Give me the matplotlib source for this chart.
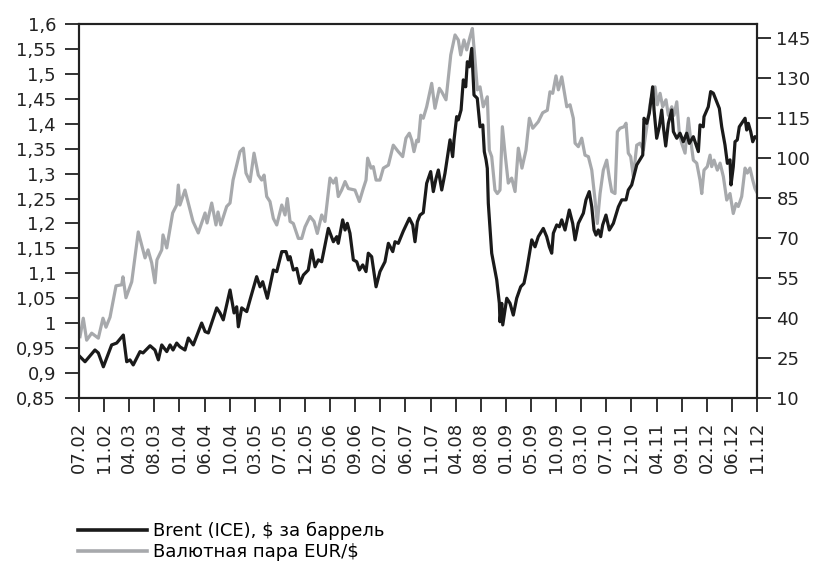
import matplotlib
matplotlib.use("Agg")
import matplotlib.pyplot as plt
from matplotlib.lines import Line2D

plt.rcParams['font.family'] = ['DejaVu Sans']

# x positions are weeks counted from July 2002; a date label every 20 weeks
tick_labels = ['07.02', '11.02', '04.03', '08.03', '01.04', '06.04', '10.04',
               '03.05', '07.05', '12.05', '05.06', '09.06', '02.07', '06.07',
               '11.07', '04.08', '08.08', '01.09', '05.09', '10.09', '03.10',
               '07.10', '12.10', '04.11', '09.11', '02.12', '06.12', '11.12']
tick_weeks = [20 * i for i in range(len(tick_labels))]

# EUR/$ exchange rate (left axis)
eur_week = [0.8, 3.4, 6.1, 10.1, 15.4, 19.1, 21.5, 24.7, 29.5, 34.0,
            35.0, 37.4, 42.0, 47.2, 52.6, 55.0, 57.9, 60.5, 62.1, 65.9,
            66.9, 69.9, 74.6, 77.8, 79.1, 80.4, 84.4, 90.8, 95.0, 100.4,
            102.0, 105.7, 109.1, 110.7, 112.9, 117.6, 120.3, 122.7, 128.2, 130.9,
            133.0, 136.2, 139.4, 142.8, 145.5, 147.4, 149.5, 152.1, 154.8, 157.5,
            161.5, 164.1, 165.9, 168.1, 170.7, 174.7, 177.4, 180.0, 184.0, 187.2,
            189.8, 193.3, 195.9, 199.9, 202.6, 204.7, 206.5, 209.2, 211.9, 214.5,
            219.8, 223.3, 226.4, 228.6, 229.9, 232.6, 234.4, 236.6, 239.7, 242.4,
            246.4, 250.3, 254.3, 257.8, 260.4, 263.1, 265.0, 266.8, 269.0, 270.3,
            272.2, 274.2, 276.9, 280.9, 283.5, 287.0, 288.9, 292.3, 296.1, 299.5,
            302.1, 304.0, 306.6, 308.8, 311.4, 313.3, 315.4, 317.3, 319.4, 322.0,
            325.2, 326.8, 328.7, 331.3, 333.2, 335.3, 337.2, 339.3, 341.9, 344.6,
            347.3, 349.9, 352.8, 356.0, 358.7, 361.4, 365.8, 369.3, 373.0, 375.1,
            377.3, 379.9, 381.8, 384.5, 388.5, 391.1, 393.7, 395.1, 397.7, 400.4,
            403.0, 405.7, 408.4, 411.0, 412.8, 415.0, 417.6, 420.3, 422.4, 424.3,
            426.9, 428.8, 430.9, 434.1, 435.7, 437.5, 439.4, 441.5, 444.2, 446.8,
            449.5, 452.2, 453.4, 455.4, 458.8, 460.6, 462.8, 464.9, 467.5, 469.4,
            472.1, 473.9, 476.1, 478.1, 480.0, 482.7, 485.3, 487.2, 489.3, 492.0,
            494.6, 496.0, 497.8, 500.4, 502.6, 503.9, 505.8, 508.4, 510.6, 513.2,
            515.9, 518.5, 521.1, 523.3, 525.1, 527.8, 530.5, 532.3, 534.4, 536.6,
            538.4, 539.8]
eur_rate = [0.973, 1.010, 0.966, 0.980, 0.970, 1.010, 0.992, 1.012, 1.075, 1.077,
            1.093, 1.051, 1.083, 1.183, 1.131, 1.147, 1.121, 1.081, 1.127, 1.147,
            1.177, 1.151, 1.221, 1.237, 1.277, 1.237, 1.267, 1.204, 1.181, 1.221,
            1.201, 1.241, 1.197, 1.223, 1.197, 1.234, 1.241, 1.287, 1.344, 1.351,
            1.301, 1.284, 1.341, 1.297, 1.287, 1.297, 1.254, 1.244, 1.210, 1.197,
            1.237, 1.217, 1.250, 1.204, 1.200, 1.170, 1.170, 1.193, 1.214, 1.204,
            1.180, 1.217, 1.204, 1.291, 1.281, 1.291, 1.254, 1.267, 1.284, 1.270,
            1.267, 1.244, 1.270, 1.287, 1.331, 1.311, 1.314, 1.287, 1.287, 1.311,
            1.317, 1.357, 1.344, 1.334, 1.371, 1.381, 1.367, 1.344, 1.367, 1.364,
            1.417, 1.411, 1.434, 1.481, 1.431, 1.471, 1.464, 1.448, 1.538, 1.578,
            1.568, 1.538, 1.568, 1.548, 1.574, 1.591, 1.528, 1.468, 1.474, 1.434,
            1.454, 1.347, 1.334, 1.267, 1.260, 1.267, 1.394, 1.341, 1.281, 1.291,
            1.264, 1.351, 1.311, 1.347, 1.411, 1.391, 1.404, 1.422, 1.427, 1.464,
            1.461, 1.496, 1.468, 1.494, 1.434, 1.438, 1.411, 1.361, 1.354, 1.371,
            1.337, 1.334, 1.307, 1.247, 1.200, 1.260, 1.307, 1.327, 1.291, 1.264,
            1.260, 1.384, 1.391, 1.394, 1.401, 1.341, 1.334, 1.294, 1.357, 1.361,
            1.347, 1.394, 1.414, 1.448, 1.474, 1.438, 1.461, 1.434, 1.448, 1.417,
            1.434, 1.417, 1.444, 1.381, 1.361, 1.341, 1.411, 1.367, 1.327, 1.321,
            1.287, 1.260, 1.307, 1.314, 1.337, 1.314, 1.327, 1.307, 1.321, 1.294,
            1.247, 1.260, 1.220, 1.240, 1.234, 1.254, 1.311, 1.301, 1.311, 1.287,
            1.270, 1.263]

# Brent (ICE), $ per barrel (right axis)
brent_week = [0.8, 4.8, 12.7, 15.4, 19.4, 26.0, 30.0, 35.3, 38.0, 40.6,
              43.2, 48.6, 51.0, 56.6, 60.5, 63.2, 65.9, 69.9, 72.5, 74.9,
              77.8, 80.4, 84.4, 87.1, 91.0, 97.7, 100.4, 103.0, 109.7, 112.3,
              114.9, 120.3, 123.5, 125.6, 126.9, 129.6, 133.6, 136.2, 141.5, 144.2,
              146.3, 150.0, 154.8, 157.5, 161.5, 164.9, 166.7, 168.1, 170.7, 173.4,
              176.0, 178.7, 182.6, 185.3, 188.0, 190.6, 193.3, 198.6, 202.6, 205.3,
              206.5, 210.0, 211.9, 213.7, 215.8, 218.5, 221.2, 223.3, 226.0, 228.6,
              230.4, 233.1, 236.6, 239.7, 243.7, 246.4, 249.9, 251.7, 254.3, 258.3,
              263.1, 265.8, 267.6, 269.5, 271.6, 274.2, 276.9, 280.1, 282.2, 284.4,
              286.2, 288.9, 291.5, 295.5, 297.6, 298.7, 300.8, 302.1, 304.3, 306.1,
              308.0, 309.3, 310.9, 312.8, 314.6, 317.2, 319.4, 321.6, 322.8, 324.2,
              325.2, 326.0, 328.7, 332.7, 334.8, 335.3, 336.7, 337.5, 340.7, 343.3,
              345.9, 348.6, 351.8, 354.4, 356.6, 360.6, 363.2, 365.8, 369.8, 372.5,
              374.6, 376.5, 377.8, 380.5, 382.6, 384.5, 387.1, 390.5, 393.2, 395.1,
              397.7, 401.7, 403.8, 406.4, 408.4, 410.2, 411.8, 413.6, 415.5, 417.1,
              419.7, 422.4, 425.6, 429.6, 432.3, 435.7, 437.5, 440.2, 444.2, 449.0,
              450.0, 452.2, 454.2, 456.9, 458.0, 460.1, 462.2, 464.1, 465.4, 467.3,
              469.4, 472.1, 473.4, 476.1, 478.7, 481.3, 484.0, 486.1, 489.3, 493.3,
              494.6, 497.2, 497.8, 501.2, 503.1, 505.2, 508.4, 510.0, 511.9, 514.5,
              516.4, 518.5, 519.3, 521.1, 522.5, 524.3, 525.9, 528.6, 530.5, 531.8,
              533.1, 535.0, 536.6, 538.4, 539.8]
brent_price = [25.5, 23.6, 28.0, 26.9, 21.7, 29.9, 30.6, 33.6, 23.6, 24.3,
               22.4, 27.4, 26.9, 29.6, 28.0, 24.3, 29.9, 27.4, 29.9, 28.0,
               30.6, 29.2, 28.0, 32.5, 29.9, 38.1, 34.9, 34.4, 43.8, 41.9,
               39.3, 50.5, 41.9, 44.2, 36.7, 43.8, 42.4, 46.8, 55.5, 51.7,
               53.6, 47.4, 58.0, 57.4, 64.9, 64.9, 61.8, 63.0, 58.0, 58.6,
               53.0, 56.1, 58.0, 65.5, 59.2, 61.8, 61.1, 73.6, 68.6, 70.5,
               68.0, 76.8, 73.0, 75.5, 71.8, 61.8, 61.1, 58.0, 59.9, 57.4,
               64.3, 63.0, 51.7, 57.4, 61.1, 68.0, 64.9, 68.6, 68.0, 72.6,
               77.4, 74.9, 68.6, 76.1, 78.6, 79.5, 90.5, 94.9, 87.4, 92.4,
               95.5, 88.0, 94.3, 106.8, 100.5, 106.8, 115.5, 114.3, 118.0, 129.3,
               126.7, 136.1, 134.2, 141.1, 123.6, 122.4, 111.7, 112.4, 102.4, 99.3,
               96.1, 83.0, 64.3, 54.3, 45.5, 38.6, 45.5, 37.4, 47.4, 45.5,
               41.1, 47.4, 51.7, 53.0, 58.0, 69.3, 66.7, 70.5, 73.6, 70.5,
               66.7, 64.3, 71.8, 74.9, 74.2, 76.8, 73.0, 80.5, 75.5, 69.3,
               75.5, 79.3, 84.3, 87.4, 81.7, 73.0, 71.1, 73.0, 70.5, 74.9,
               78.6, 73.0, 75.5, 81.7, 84.3, 84.3, 88.0, 89.9, 97.4, 101.1,
               114.9, 113.0, 116.8, 126.7, 118.0, 107.4, 111.7, 118.0, 111.7, 104.5,
               113.0, 118.0, 109.9, 107.4, 109.3, 106.1, 109.3, 105.5, 108.0, 102.4,
               112.4, 111.7, 115.5, 119.2, 124.9, 124.3, 120.5, 118.6, 111.7, 104.9,
               98.0, 99.3, 89.9, 96.7, 106.1, 106.8, 111.7, 113.6, 114.9, 110.5,
               113.0, 109.9, 106.1, 108.0, 107.5]

left_ticks = [0.85, 0.9, 0.95, 1.0, 1.05, 1.1, 1.15, 1.2, 1.25, 1.3,
              1.35, 1.4, 1.45, 1.5, 1.55, 1.6]
right_ticks = [10, 25, 40, 55, 70, 85, 100, 115, 130, 145]

BLACK = '#1a1a1a'
GRAY = '#a7a9ac'
INK = '#222222'
FS = 13

fig = plt.figure(figsize=(8.16, 5.65), dpi=100)
ax = fig.add_axes([79 / 816, 1 - 398 / 565, 678 / 816, 374 / 565])
ax2 = ax.twinx()

ax.plot(eur_week, eur_rate, color=GRAY, lw=2.3, solid_joinstyle='round')
ax2.plot(brent_week, brent_price, color=BLACK, lw=2.3, solid_joinstyle='round')

ax.set_xlim(0, 540)
ax.set_ylim(0.85, 1.6)
ax2.set_ylim(10, 150.25)

ax.set_xticks(tick_weeks)
ax.set_xticklabels(tick_labels, rotation=90, fontsize=FS)
ax.set_yticks(left_ticks)
ax.set_yticklabels([f"{v:g}".replace('.', ',') for v in left_ticks], fontsize=FS)
ax2.set_yticks(right_ticks)
ax2.set_yticklabels([str(v) for v in right_ticks], fontsize=FS)

for a in (ax, ax2):
    a.tick_params(direction='out', length=10, width=1.3, color=INK, labelcolor=INK)
    for s in a.spines.values():
        s.set_linewidth(1.5)
        s.set_color(INK)
ax.tick_params(axis='y', pad=6.5)
ax.tick_params(axis='x', pad=7)
ax2.tick_params(axis='y', pad=4)

handles = [Line2D([], [], color=BLACK, lw=2.6),
           Line2D([], [], color=GRAY, lw=2.6)]
labels = ['Brent (ICE), $ за баррель', 'Валютная пара EUR/$']
fig.legend(handles, labels, loc='upper left', bbox_to_anchor=(78 / 816, 1 - 522 / 565),
           frameon=False, fontsize=FS, handlelength=3.8, handletextpad=0.33,
           labelspacing=0.15, borderpad=0, borderaxespad=0)

fig.savefig('out.png', dpi=100)
